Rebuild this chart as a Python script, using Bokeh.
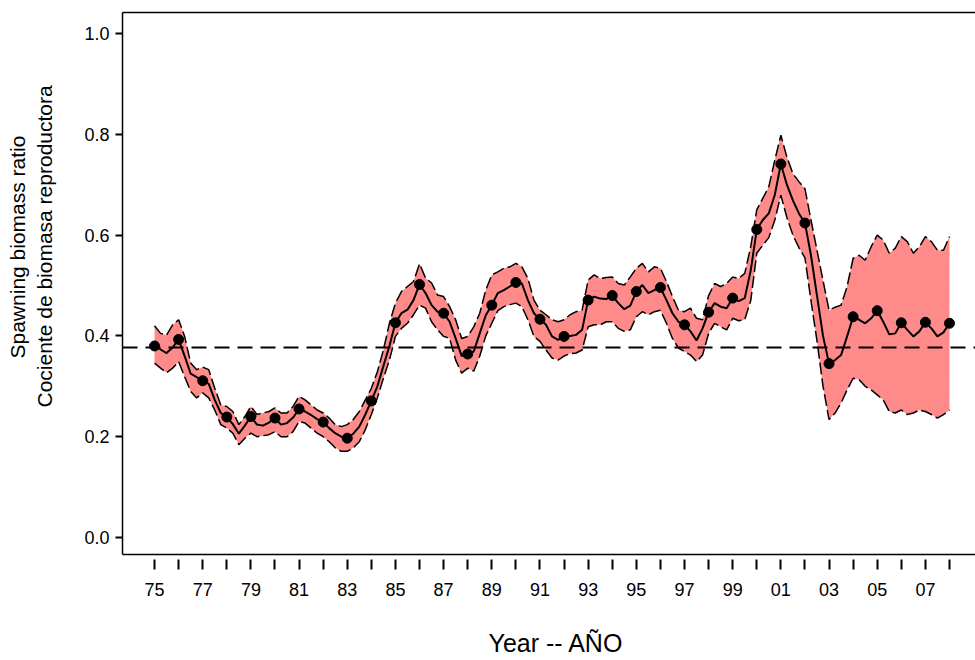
import numpy as np
from bokeh.plotting import figure
from bokeh.models import (Range1d, FixedTicker, LinearAxis, Span, Title,
                          ColumnDataSource, PrintfTickFormatter)
from bokeh.embed import file_html
from bokeh.resources import INLINE

# ---------------- data (quarterly, 1975 Q1 .. 2008 Q1) ----------------
first_year = 1975
sbr = [
    0.380, 0.373, 0.366, 0.377,   # 1975
    0.393, 0.360, 0.325, 0.318,   # 1976
    0.311, 0.305, 0.273, 0.247,   # 1977
    0.239, 0.225, 0.206, 0.222,   # 1978
    0.240, 0.224, 0.222, 0.228,   # 1979
    0.237, 0.224, 0.227, 0.238,   # 1980
    0.255, 0.250, 0.243, 0.235,   # 1981
    0.229, 0.217, 0.207, 0.200,   # 1982
    0.197, 0.206, 0.220, 0.244,   # 1983
    0.271, 0.300, 0.340, 0.380,   # 1984
    0.426, 0.445, 0.452, 0.471,   # 1985
    0.502, 0.485, 0.461, 0.448,   # 1986
    0.445, 0.428, 0.395, 0.360,   # 1987
    0.364, 0.369, 0.405, 0.441,   # 1988
    0.461, 0.485, 0.491, 0.498,   # 1989
    0.506, 0.504, 0.471, 0.445,   # 1990
    0.433, 0.422, 0.399, 0.392,   # 1991
    0.399, 0.400, 0.402, 0.412,   # 1992
    0.471, 0.478, 0.474, 0.473,   # 1993
    0.480, 0.465, 0.453, 0.460,   # 1994
    0.488, 0.501, 0.485, 0.491,   # 1995
    0.496, 0.471, 0.445, 0.428,   # 1996
    0.422, 0.409, 0.391, 0.415,   # 1997
    0.447, 0.465, 0.458, 0.455,   # 1998
    0.475, 0.469, 0.475, 0.530,   # 1999
    0.611, 0.630, 0.643, 0.680,   # 2000
    0.741, 0.700, 0.669, 0.643,   # 2001
    0.624, 0.560, 0.480, 0.400,   # 2002
    0.345, 0.352, 0.362, 0.399,   # 2003
    0.438, 0.432, 0.425, 0.435,   # 2004
    0.450, 0.428, 0.403, 0.405,   # 2005
    0.426, 0.412, 0.399, 0.409,   # 2006
    0.427, 0.415, 0.399, 0.407,   # 2007
    0.425,                        # 2008
]
sbr_upper = [
    0.420, 0.405, 0.402, 0.422,
    0.432, 0.399, 0.346, 0.333,
    0.338, 0.333, 0.296, 0.263,
    0.260, 0.250, 0.224, 0.240,
    0.260, 0.244, 0.247, 0.250,
    0.257, 0.247, 0.247, 0.260,
    0.280, 0.273, 0.263, 0.253,
    0.247, 0.237, 0.224, 0.220,
    0.224, 0.234, 0.250, 0.273,
    0.296, 0.329, 0.372, 0.425,
    0.465, 0.488, 0.498, 0.508,
    0.543, 0.515, 0.505, 0.481,
    0.478, 0.458, 0.432, 0.395,
    0.399, 0.418, 0.445, 0.491,
    0.521, 0.527, 0.534, 0.537,
    0.544, 0.537, 0.514, 0.471,
    0.451, 0.442, 0.432, 0.428,
    0.432, 0.442, 0.448, 0.451,
    0.511, 0.521, 0.514, 0.516,
    0.517, 0.504, 0.501, 0.517,
    0.534, 0.544, 0.527, 0.537,
    0.534, 0.508, 0.478, 0.451,
    0.448, 0.455, 0.435, 0.432,
    0.480, 0.504, 0.498, 0.504,
    0.517, 0.514, 0.524, 0.577,
    0.650, 0.673, 0.696, 0.749,
    0.798, 0.755, 0.722, 0.706,
    0.692, 0.630, 0.570, 0.510,
    0.451, 0.457, 0.461, 0.498,
    0.554, 0.560, 0.550, 0.577,
    0.600, 0.590, 0.564, 0.574,
    0.597, 0.587, 0.564, 0.577,
    0.597, 0.587, 0.570, 0.570,
    0.597,
]
sbr_lower = [
    0.346, 0.336, 0.327, 0.336,
    0.349, 0.319, 0.290, 0.277,
    0.287, 0.277, 0.253, 0.224,
    0.217, 0.207, 0.184, 0.197,
    0.207, 0.200, 0.202, 0.204,
    0.210, 0.200, 0.200, 0.210,
    0.230, 0.227, 0.217, 0.207,
    0.200, 0.190, 0.178, 0.171,
    0.171, 0.178, 0.190, 0.214,
    0.244, 0.277, 0.316, 0.352,
    0.399, 0.415, 0.425, 0.442,
    0.461, 0.455, 0.428, 0.412,
    0.399, 0.395, 0.352, 0.326,
    0.336, 0.330, 0.360, 0.400,
    0.425, 0.450, 0.458, 0.462,
    0.465, 0.458, 0.432, 0.399,
    0.389, 0.372, 0.356, 0.352,
    0.360, 0.365, 0.366, 0.372,
    0.418, 0.422, 0.422, 0.428,
    0.428, 0.415, 0.409, 0.412,
    0.438, 0.448, 0.442, 0.448,
    0.451, 0.425, 0.395, 0.376,
    0.369, 0.362, 0.349, 0.362,
    0.405, 0.425, 0.418, 0.412,
    0.435, 0.430, 0.432, 0.470,
    0.564, 0.580, 0.595, 0.630,
    0.679, 0.635, 0.600, 0.575,
    0.555, 0.470, 0.390, 0.300,
    0.234, 0.247, 0.267, 0.293,
    0.316, 0.313, 0.300, 0.293,
    0.283, 0.273, 0.250, 0.247,
    0.253, 0.244, 0.247, 0.253,
    0.250, 0.244, 0.237, 0.244,
    0.253,
]
reference_level = 0.377
tick_years = list(range(1975, 2009))
label_years = list(range(1975, 2008, 2))
y_ticks = [0.0, 0.2, 0.4, 0.6, 0.8, 1.0]
x_title = "Year -- AÑO"
y_title_1 = "Spawning biomass ratio"
y_title_2 = "Cociente de biomasa reproductora"

# ---------------- build ----------------
X0, X1 = 1973.67, 2009.08
Y0, Y1 = -0.0337, 1.0416
t = first_year + np.arange(len(sbr)) / 4.0
src = ColumnDataSource(dict(t=t, mid=sbr, lo=sbr_lower, hi=sbr_upper))
annual = ColumnDataSource(dict(t=t[::4], mid=sbr[::4]))

FONT = "Liberation Sans"

p = figure(width=975, height=660, output_backend="svg", toolbar_location=None,
           x_range=Range1d(X0, X1), y_range=Range1d(Y0, Y1),
           x_axis_location=None, y_axis_location=None,
           min_border_left=122, min_border_right=0, min_border_top=12,
           min_border_bottom=105)
p.outline_line_color = None
p.grid.visible = False
p.background_fill_color = "white"
p.border_fill_color = "white"

p.varea(x="t", y1="lo", y2="hi", source=src, fill_color="#FF8A8A", fill_alpha=1.0)
p.line(x="t", y="hi", source=src, line_color="black", line_width=1.5, line_dash="12 4")
p.line(x="t", y="lo", source=src, line_color="black", line_width=1.5, line_dash="12 4")
p.line(x="t", y="mid", source=src, line_color="black", line_width=2)
p.scatter(x="t", y="mid", source=annual, size=10, fill_color="black", line_color="black")

p.add_layout(Span(location=reference_level, dimension="width", line_color="black",
                  line_width=2, line_dash="15 8"))

# left axis (an invisible, blank axis label acts as spacing before the titles)
ya = LinearAxis(ticker=FixedTicker(ticks=y_ticks),
                formatter=PrintfTickFormatter(format="%.1f"))
ya.axis_line_width = 1.5
ya.major_tick_out = 7
ya.major_tick_in = 0
ya.major_tick_line_width = 2
ya.minor_tick_out = 0
ya.major_label_standoff = 6
ya.major_label_text_font = FONT
ya.major_label_text_font_size = "18px"
ya.major_label_text_color = "black"
ya.axis_label = " "
ya.axis_label_text_font_size = "2px"
ya.axis_label_standoff = 20
p.add_layout(ya, "left")

# y titles (two lines), shifted up along the axis like the original
for txt, off in ((y_title_2, 147), (y_title_1, 196)):
    p.add_layout(Title(text=txt, align="left", offset=off, standoff=2,
                       text_font=FONT, text_font_size="21px",
                       text_font_style="normal", text_color="black"), "left")

# bottom axis (blank axis label = spacing before the title)
xa = LinearAxis(ticker=FixedTicker(ticks=label_years,
                                   minor_ticks=[y for y in tick_years if y not in label_years]))
xa.major_label_overrides = {y: f"{y % 100:02d}" for y in label_years}
xa.axis_line_width = 1.5
xa.major_tick_in = -5
xa.major_tick_out = 15
xa.minor_tick_in = -5
xa.minor_tick_out = 15
xa.major_tick_line_width = 2
xa.minor_tick_line_width = 2
xa.minor_tick_line_color = "black"
xa.major_label_standoff = 13
xa.major_label_text_font = FONT
xa.major_label_text_font_size = "18px"
xa.major_label_text_color = "black"
xa.axis_label = " "
xa.axis_label_text_font_size = "2px"
xa.axis_label_standoff = 19
p.add_layout(xa, "below")

# x title
p.add_layout(Title(text=x_title, align="left", offset=366, standoff=8,
                   text_font=FONT, text_font_size="25px",
                   text_font_style="normal", text_color="black"), "below")

# top frame line
ta = LinearAxis(ticker=FixedTicker(ticks=[]))
ta.axis_line_width = 1.5
ta.major_tick_out = 0
ta.minor_tick_out = 0
ta.major_label_text_font_size = "0px"
p.add_layout(ta, "above")

open("out.html", "w").write(file_html(p, INLINE))
